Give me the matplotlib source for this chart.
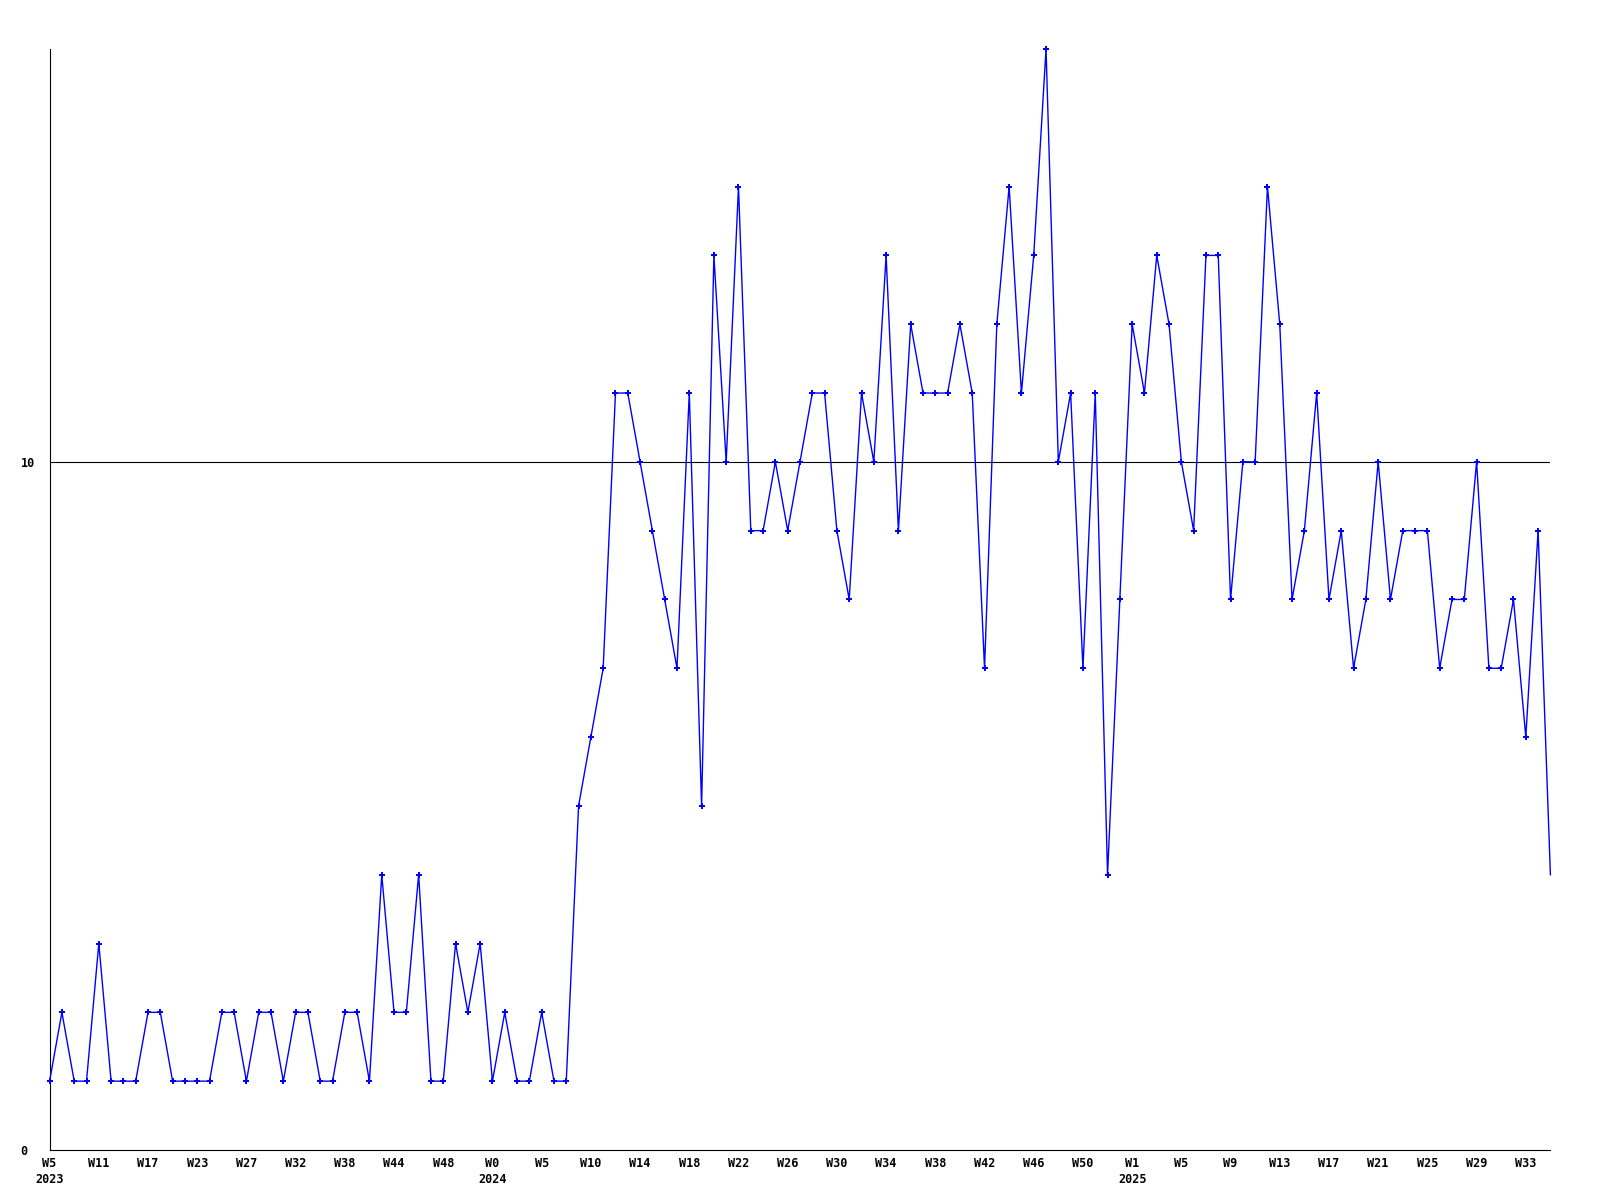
import matplotlib
matplotlib.use("Agg")
import matplotlib.pyplot as plt

# weekly counts, one value per sample
values = [1, 2, 1, 1, 3, 1, 1, 1, 2, 2, 1, 1, 1, 1, 2, 2, 1, 2, 2, 1,
          2, 2, 1, 1, 2, 2, 1, 4, 2, 2, 4, 1, 1, 3, 2, 3, 1, 2, 1, 1,
          2, 1, 1,
          5, 6, 7, 11, 11, 10, 9, 8, 7, 11, 5,
          13, 10, 14, 9, 9, 10, 9, 10, 11, 11, 9, 8, 11, 10, 13, 9, 12, 11,
          11, 11, 12, 11, 7, 12, 14, 11, 13, 16,
          10, 11, 7, 11, 4, 8, 12, 11, 13, 12, 10, 9, 13, 13, 8, 10, 10, 14,
          12, 8, 9, 11, 8, 9, 7, 8, 10, 8, 9, 9, 9, 7, 8, 8, 10, 7, 7, 8,
          6, 9, 4]

week_labels = ["W5", "W11", "W17", "W23", "W27", "W32", "W38", "W44", "W48",
               "W0", "W5", "W10", "W14", "W18", "W22", "W26", "W30", "W34",
               "W38", "W42", "W46", "W50", "W1", "W5", "W9", "W13", "W17",
               "W21", "W25", "W29", "W33"]
years = {0: "2023", 9: "2024", 22: "2025"}
label_step = 4
ref_level = 10

plt.rcParams['font.family'] = ['DejaVu Sans Mono']
plt.rcParams['font.weight'] = 'bold'

fig = plt.figure(figsize=(16, 12), dpi=100)
ax = fig.add_axes([0.031, 0.0417, 0.938, 0.9175])

x = list(range(len(values)))
ax.plot(x, values, color='#0000ff', lw=1.0, marker='P', markersize=5,
        markeredgewidth=0, markevery=slice(0, len(values) - 1), clip_on=False,
        zorder=3)
ax.axhline(ref_level, color='black', lw=0.8)

ax.set_xlim(0, len(values) - 1)
ax.set_ylim(0, 16)

ticks = [i * label_step for i in range(len(week_labels))]
labels = []
for i, w in enumerate(week_labels):
    labels.append(w + "\n" + years[i] if i in years else w)
ax.set_xticks(ticks)
ax.set_xticklabels(labels, fontsize=8.5, fontweight='bold', linespacing=1.3)
ax.tick_params(axis='x', length=0, pad=5)

ax.set_yticks([0, ref_level])
ax.set_yticklabels(["0", "10"], fontsize=8.5, fontweight='bold')
ax.tick_params(axis='y', length=0, pad=21)
for t in ax.get_yticklabels():
    t.set_horizontalalignment('left')

for s in ['top', 'right']:
    ax.spines[s].set_visible(False)
for s in ['left', 'bottom']:
    ax.spines[s].set_linewidth(0.8)
    ax.spines[s].set_color('black')

fig.savefig("out.png", dpi=100)
